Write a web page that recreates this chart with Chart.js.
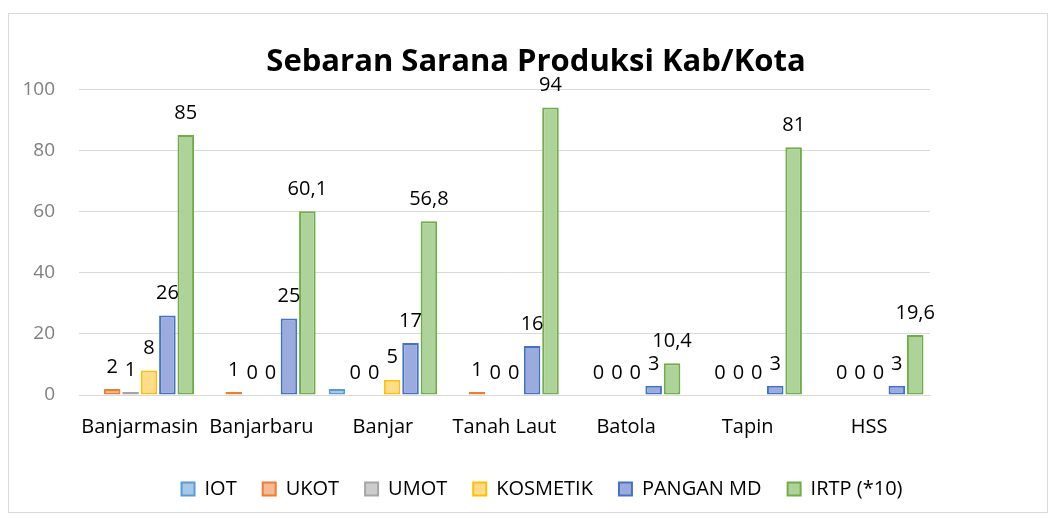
<!DOCTYPE html>
<html>
<head>
<meta charset="utf-8">
<script src="https://cdn.jsdelivr.net/npm/chart.js@4/dist/chart.umd.min.js"></script>
<style>
  html, body { margin: 0; padding: 0; background: #ffffff; }
  #frame { position: absolute; left: 8px; top: 13px; width: 1038px; height: 498px; border: 1px solid #d9d9d9; background: #fff; }
  #c { display: block; }
</style>
</head>
<body>
<div id="frame"><canvas id="c" width="1038" height="498"></canvas></div>
<script>
const categories = ["Banjarmasin", "Banjarbaru", "Banjar", "Tanah Laut", "Batola", "Tapin", "HSS"];
const iot      = [0, 0, 2, 0, 0, 0, 0];
const ukot     = [2, 1, 0, 1, 0, 0, 0];
const umot     = [1, 0, 0, 0, 0, 0, 0];
const kosmetik = [8, 0, 5, 0, 0, 0, 0];
const panganMD = [26, 25, 17, 16, 3, 3, 3];
const irtp     = [85, 60.1, 56.8, 94, 10.4, 81, 19.6];
const yTicks   = [0, 20, 40, 60, 80, 100];

const FONT = "'Open Sans', 'DejaVu Sans', sans-serif";

const labelPlugin = {
  id: 'valueLabels',
  afterLayout(chart) {
    if (chart.legend) { chart.legend.left += 8; chart.legend.right += 8; }
    if (chart.titleBlock) { chart.titleBlock.left += 2; chart.titleBlock.right += 2; }
  },
  afterDatasetsDraw(chart) {
    const ctx = chart.ctx;
    ctx.save();
    ctx.font = "20px " + FONT;
    ctx.fillStyle = "#000000";
    ctx.textAlign = "center";
    ctx.textBaseline = "middle";
    chart.data.datasets.forEach((ds, i) => {
      if (ds.noLabel) return;
      const meta = chart.getDatasetMeta(i);
      meta.data.forEach((el, j) => {
        const v = ds.data[j];
        if (v === null || v === undefined) return;
        ctx.fillText(String(v).replace('.', ','), el.x, el.y - 22);
      });
    });
    ctx.restore();
  }
};

function mk(label, data, fill, border, noLabel) {
  return { label, data, backgroundColor: fill, borderColor: border, borderWidth: 2, noLabel: !!noLabel, borderSkipped: false };
}

new Chart(document.getElementById('c'), {
  type: 'bar',
  data: {
    labels: categories,
    datasets: [
      mk("IOT", iot, "#a7c8e8", "#5b9bd5", true),
      mk("UKOT", ukot, "#f6b996", "#ed7d31"),
      mk("UMOT", umot, "#cccccc", "#a5a5a5"),
      mk("KOSMETIK", kosmetik, "#ffdc8a", "#ffc000"),
      mk("PANGAN MD", panganMD, "#9cabde", "#4472c4"),
      mk("IRTP (*10)", irtp, "#aed39a", "#70ad47")
    ]
  },
  options: {
    responsive: false,
    animation: false,
    devicePixelRatio: 1,
    layout: { padding: { left: 12, right: 0, top: 0, bottom: 3 } },
    datasets: { bar: { categoryPercentage: 0.908, barPercentage: 0.9 } },
    plugins: {
      title: {
        display: true,
        text: "Sebaran Sarana Produksi Kab/Kota",
        color: "#000000",
        font: { family: FONT, size: 31, weight: 'bold', lineHeight: 1.2 },
        padding: { top: 30, bottom: 8 }
      },
      legend: {
        position: 'bottom',
        labels: {
          boxWidth: 13, boxHeight: 13, padding: 26,
          color: "#000000",
          font: { family: FONT, size: 20 }
        }
      },
      tooltip: { enabled: false }
    },
    scales: {
      x: {
        grid: { display: false, drawTicks: false },
        border: { display: true, color: "#d9d9d9", width: 1 },
        ticks: { color: "#000000", font: { family: FONT, size: 20 }, padding: 20, maxRotation: 0 },
        afterFit(s) { s.height = 58; }
      },
      y: {
        min: 0, max: 100,
        afterBuildTicks(s) { s.ticks = yTicks.map(v => ({ value: v })); },
        grid: { color: "#d9d9d9", lineWidth: 1, drawTicks: false },
        border: { display: false },
        ticks: { color: "#7f7f7f", font: { family: FONT, size: 19 }, padding: 24 },
        afterFit(s) { s.width = 58; }
      },
      yRight: {
        position: 'right',
        display: true,
        grid: { display: false, drawTicks: false },
        border: { display: false },
        ticks: { display: false },
        afterFit(s) { s.width = 117; }
      }
    }
  },
  plugins: [labelPlugin]
});
</script>
</body>
</html>
